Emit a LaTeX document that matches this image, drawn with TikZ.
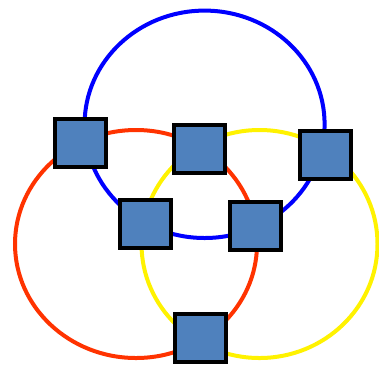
\documentclass[tikz,border=0pt]{standalone}
\usepackage{tikz}
\usetikzlibrary{positioning}
\definecolor{ringred}{RGB}{255,51,0}
\definecolor{boxblue}{RGB}{79,129,189}

\begin{document}
\begin{tikzpicture}[x=1pt, y=-1pt, ring/.style={line width=4pt},
    box/.style={draw=black, line width=4pt, fill=boxblue, minimum width=51pt, minimum height=48pt, inner sep=0pt}]
    \useasboundingbox (0,0) rectangle (379,365);
    \draw[ring, blue] (204.6,124.3) ellipse (120pt and 113.7pt);
    \draw[ring, ringred] (136,244) ellipse (121pt and 114pt);
    \draw[ring, yellow] (259.5,244) ellipse (118pt and 114pt);
    \node[box] (1) at (80.5,142.5) {};
    \node[box] (2) at (199,149) {};
    \node[box] (3) at (325,154.5) {};
    \node[box] (4) at (145.5,223.5) {};
    \node[box] (5) at (255.5,226) {};
    \node[box] (6) at (200,338) {};
  \end{tikzpicture}
\end{document}
